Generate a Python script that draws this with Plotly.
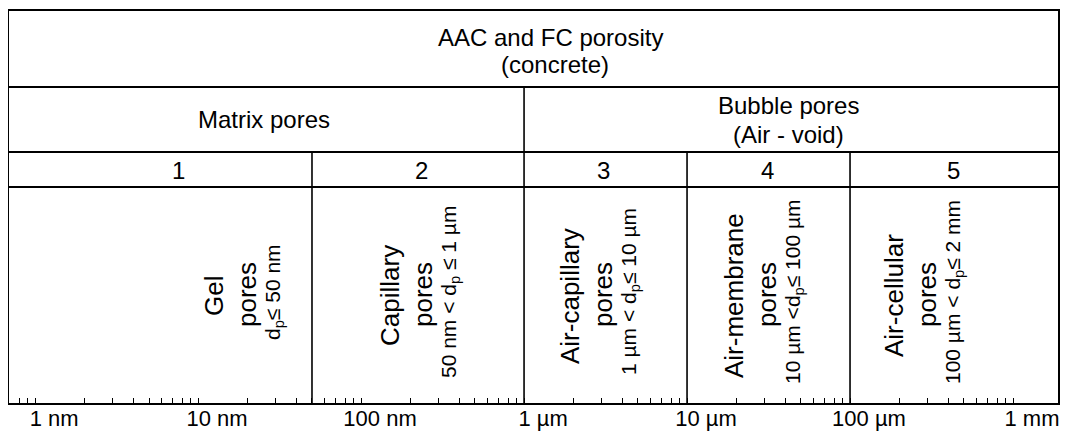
import plotly.graph_objects as go

# ---------------- data ----------------
title_lines = ["AAC and FC porosity", "(concrete)"]
group_names = ["Matrix pores", "Bubble pores", "(Air - void)"]
group_boundary_nm = [1000]                      # matrix / bubble split (1 µm)
class_boundaries_nm = [50, 1000, 10000, 100000]  # 50 nm, 1 µm, 10 µm, 100 µm
class_numbers = ["1", "2", "3", "4", "5"]
class_names = ["Gel", "Capillary", "Air-capillary", "Air-membrane", "Air-cellular"]
class_word = "pores"
class_ranges = [
    "d<sub>p</sub>≤ 50 nm",
    "50 nm < d<sub>p</sub> ≤ 1 µm",
    "1 µm < d<sub>p</sub>≤ 10 µm",
    "10 µm <d<sub>p</sub>≤ 100 µm",
    "100 µm < d<sub>p</sub>≤ 2 mm",
]
tick_vals_nm = [1, 10, 100, 1000, 10000, 100000, 1000000]
tick_text = ["1 nm", "10 nm", "100 nm", "1 µm", "10 µm", "100 µm", "1 mm"]
minor_tick_vals_nm = [d * 10 ** k for k in range(-1, 7) for d in range(2, 10)]

# ---------------- layout constants ----------------
# page coordinates of the plot frame (the html body adds an 8 px margin)
BODY = 8
PAGE_W, PAGE_H = 1068, 432
FX0, FX1, FY0, FY1 = 9, 1058, 11, 403
PW, PH = FX1 - FX0, FY1 - FY0
W, H = PAGE_W - BODY, PAGE_H - BODY
FONT = "Liberation Sans, Arial, sans-serif"
INK = "#000000"

def px(xp):   # page pixel x -> paper
    return (xp - FX0) / PW

def py(yp):   # page pixel y -> paper
    return (FY1 - yp) / PH

row_lines = [py(87), py(152), py(187)]  # horizontal separators

fig = go.Figure()

# vertical dividers: group boundary spans rows 2-4, class boundaries rows 3-4
xs, ys = [], []
for b in class_boundaries_nm:
    top = row_lines[0] if b in group_boundary_nm else row_lines[1]
    xs += [b, b, None]
    ys += [0, top, None]
fig.add_trace(go.Scatter(x=xs, y=ys, mode="lines",
                         line=dict(color=INK, width=1.6),
                         hoverinfo="skip", showlegend=False))

shapes = []
for yl in row_lines:
    shapes.append(dict(type="line", xref="paper", yref="paper", x0=0, x1=1,
                       y0=yl, y1=yl, line=dict(color=INK, width=1.8)))

ann = []
def text(x, y, t, size, angle=0):
    ann.append(dict(x=x, y=y, xref="paper", yref="paper", text=t,
                    showarrow=False, textangle=angle,
                    xanchor="center", yanchor="middle",
                    font=dict(family=FONT, size=size, color=INK)))

# row 1
text(px(550), py(37), title_lines[0], 24)
text(px(555), py(65), title_lines[1], 24)
# row 2
text(px(264), py(120), group_names[0], 24)
text(px(788), py(105), group_names[1], 24)
text(px(788), py(134), group_names[2], 24)
# row 3
num_px = [178, 421, 603, 767, 953]
for n, xp in zip(class_numbers, num_px):
    text(px(xp), py(170), n, 24)
# row 4 (rotated)
mid_px = [247, 423, 603, 767, 927]
for name, rng, xp in zip(class_names, class_ranges, mid_px):
    text(px(xp - 33), py(296), name, 26, -90)
    text(px(xp), py(295), class_word, 26, -90)
    text(px(xp + 27), py(292), rng, 21, -90)

fig.update_layout(
    width=W, height=H,
    margin=dict(l=FX0 - BODY, r=W - (FX1 - BODY), t=FY0 - BODY,
                b=H - (FY1 - BODY), pad=0, autoexpand=False),
    paper_bgcolor="white", plot_bgcolor="white",
    shapes=shapes, annotations=ann,
    font=dict(family=FONT, color=INK),
    xaxis=dict(
        type="log", range=[-0.16, 6.276], automargin=False,
        tickmode="array", tickvals=tick_vals_nm, ticktext=tick_text,
        ticks="inside", ticklen=5, tickwidth=1.2, tickcolor=INK,
        ticklabelshift=19, ticklabelstandoff=-5,
        tickfont=dict(family=FONT, size=22, color=INK),
        minor=dict(tickmode="array", tickvals=minor_tick_vals_nm,
                   ticks="inside", ticklen=5, tickwidth=1.2, tickcolor=INK),
        showgrid=False, zeroline=False,
        showline=True, linewidth=2, linecolor=INK, mirror=True,
        fixedrange=True,
    ),
    yaxis=dict(
        range=[0, 1], showticklabels=False, ticks="", showgrid=False,
        zeroline=False, showline=True, linewidth=1.8, linecolor=INK,
        mirror=True, fixedrange=True, automargin=False,
    ),
)

fig.write_html("out.html")
